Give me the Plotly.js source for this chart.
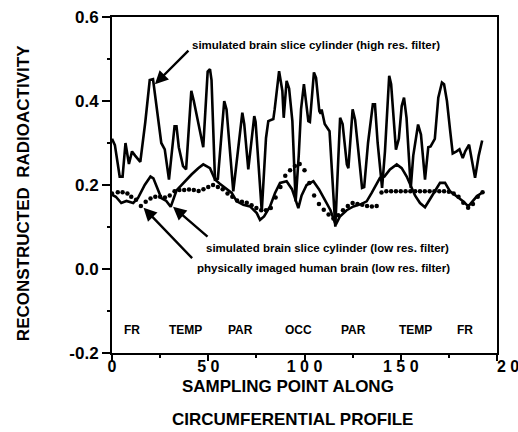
<!DOCTYPE html>
<html>
<head>
<meta charset="utf-8">
<script src="https://cdn.plot.ly/plotly-3.0.1.min.js"></script>
<style>html,body{margin:0;padding:0;background:#fff;}#chart{width:518px;height:432px;}</style>
</head>
<body>
<div id="chart"></div>
<script>
// High resolution filter simulation
const hiX = [0,1.5,3,4,5.5,7,8.8,10.4,12,14.7,17.3,19.6,21.3,22.5,24.2,25.6,27.4,29.6,32.5,33.5,34.7,36.9,38.5,41.2,42.5,44,46.6,47.4,49.7,50.9,51.7,53.5,55,58.3,59.5,63,67.7,68.7,70.8,73.9,74.6,77.8,80,81.2,83.8,84.5,86.8,88.5,89.2,90.7,92,93.7,95.4,97,98.2,99.7,102,102.8,104.9,106,107.7,108.4,108.9,110.5,113,116,118.5,119.8,122,122.8,125,126.3,128,129.9,131,133,135.5,136.6,138,140.3,141.8,144,145,146,147.5,149,150.5,151.7,153,155.2,156.5,159,160.5,162.6,164.3,165.5,167.7,169.5,171.4,172.5,174,175.6,177,179,180.5,182.2,183.5,185.5,186.5,188.6,190.5,192.3];
const hiY = [0.31,0.295,0.25,0.22,0.22,0.30,0.25,0.28,0.27,0.255,0.35,0.45,0.452,0.41,0.36,0.30,0.285,0.213,0.34,0.34,0.29,0.245,0.237,0.424,0.40,0.364,0.308,0.29,0.47,0.476,0.45,0.213,0.215,0.40,0.38,0.185,0.372,0.345,0.237,0.364,0.35,0.137,0.312,0.352,0.357,0.38,0.471,0.424,0.36,0.448,0.43,0.352,0.161,0.27,0.38,0.44,0.352,0.35,0.468,0.455,0.376,0.37,0.38,0.345,0.328,0.101,0.36,0.345,0.249,0.24,0.38,0.355,0.28,0.193,0.195,0.30,0.392,0.392,0.30,0.193,0.28,0.46,0.44,0.38,0.284,0.31,0.388,0.408,0.36,0.193,0.27,0.344,0.32,0.213,0.29,0.292,0.31,0.408,0.444,0.44,0.40,0.332,0.275,0.28,0.285,0.264,0.28,0.296,0.27,0.217,0.27,0.306];

// Low resolution filter simulation
const loX = [0,2,4.8,7.5,11,13.5,17,20,21.5,23.9,25.6,28.2,30.5,33.5,37,41.3,44.8,47.4,50.9,53.5,56,58.7,62.2,64.8,68.2,71.7,75.2,76.9,79,82.1,84.7,87.3,90.7,93.5,95.9,96.8,98.5,101.1,104.6,107.5,110.5,113.5,116.2,118.4,121.9,125.4,129.7,132.3,134.9,136.6,139.2,141.5,144.4,147.9,150.5,153.1,155.7,157.4,160,162.6,165,167.8,170.4,173,175.6,179,182.5,185.1,187.8,189.5,192];
const loY = [0.177,0.172,0.157,0.162,0.157,0.169,0.20,0.22,0.216,0.189,0.169,0.162,0.148,0.187,0.205,0.225,0.24,0.249,0.24,0.213,0.203,0.193,0.181,0.161,0.153,0.149,0.133,0.117,0.125,0.149,0.181,0.205,0.209,0.19,0.157,0.145,0.175,0.20,0.209,0.19,0.165,0.14,0.105,0.125,0.14,0.149,0.155,0.161,0.181,0.195,0.217,0.22,0.237,0.249,0.24,0.22,0.193,0.175,0.157,0.147,0.165,0.185,0.205,0.205,0.185,0.173,0.161,0.149,0.163,0.173,0.181];

// Physically imaged human brain (dots)
const phX = [0,3,5.5,8,10,12.5,15,17.5,20,22.5,25,27.5,30,32.5,35,37.5,40,42.5,45,47.5,50,52.5,55,57.5,60,62.5,65,67.5,70,72.5,75,77.5,80,82.5,85,87.5,90,92.5,95,97.5,100,102.5,105,107.5,110,112.5,115,117.5,120,122.5,125,127.5,130,132.5,135,137.5,140,142.5,145,147.5,150,152.5,155,157.5,160,162.5,165,167.5,170,172.5,175,177.5,180,182.5,185,187.5,190,192.5];
const phY = [0.18,0.183,0.183,0.18,0.172,0.165,0.15,0.16,0.168,0.172,0.172,0.17,0.175,0.185,0.188,0.188,0.189,0.188,0.186,0.19,0.195,0.2,0.195,0.19,0.18,0.172,0.163,0.16,0.158,0.152,0.145,0.14,0.14,0.145,0.17,0.195,0.222,0.235,0.245,0.25,0.235,0.205,0.175,0.155,0.141,0.13,0.12,0.128,0.14,0.15,0.157,0.155,0.153,0.15,0.149,0.15,0.182,0.185,0.185,0.185,0.185,0.185,0.185,0.185,0.185,0.185,0.185,0.185,0.185,0.185,0.184,0.18,0.172,0.158,0.146,0.155,0.172,0.183];

// Region labels
const regionNames = ["FR","TEMP","PAR","OCC","PAR","TEMP","FR"];
const regionX = [10.2,38,66.5,96.8,125.4,157.4,183.4];
const regionY = -0.146;

// Tick labels
const xTickVals = [0,50,100,150,200];
const xTickText = ["0","5 0","1 0 0","1 5 0","\u00a0\u00a0\u00a0\u00a0\u00a0\u00a0\u00a0\u00a02 0 0"];
const yTickVals = [-0.2,0,0.2,0.4,0.6];
const yTickText = ["-0.2","0.0","0.2","0.4","0.6"];

const FONT = "Liberation Sans, Arial, Helvetica, sans-serif";

const traces = [
  {x: hiX, y: hiY, mode: "lines", line: {color: "#000", width: 2.6}, hoverinfo: "skip"},
  {x: loX, y: loY, mode: "lines", line: {color: "#000", width: 2.6}, hoverinfo: "skip"},
  {x: phX, y: phY, mode: "markers", marker: {color: "#000", size: 4.5}, hoverinfo: "skip"}
];

const annotations = [];
const txt = (x, y, t, size) => ({x, y, xref: "x", yref: "y", text: t, showarrow: false,
  xanchor: "center", yanchor: "middle", font: {family: FONT, size, color: "#000", weight: 700}});
annotations.push(txt(106.2, 0.533, "simulated brain slice cylinder (high res. filter)", 11.5));
annotations.push(txt(112.2, 0.050, "simulated brain slice cylinder (low res. filter)", 11.5));
annotations.push(txt(109.9, 0.0025, "physically imaged human brain (low res. filter)", 11.5));
regionNames.forEach((n, i) => annotations.push(txt(regionX[i], regionY, n, 12)));

const arrow = (x, y, ax, ay) => ({x, y, xref: "x", yref: "y", ax, ay, text: "", showarrow: true,
  arrowhead: 2, arrowsize: 1.1, arrowwidth: 2.4, arrowcolor: "#000", standoff: 0});
annotations.push(arrow(22.3, 0.44, 35, -35));
annotations.push(arrow(31.7, 0.148, 36, 31));
annotations.push(arrow(16.4, 0.146, 50, 52));

// axis titles
annotations.push({x: -0.231, y: 0.476, xref: "paper", yref: "paper", text: "RECONSTRUCTED\u00a0\u00a0RADIOACTIVITY",
  textangle: -90, showarrow: false, xanchor: "center", yanchor: "middle",
  font: {family: FONT, size: 17, color: "#000", weight: 700}});
annotations.push({x: (288-112)/385, y: (353-386)/336, xref: "paper", yref: "paper", text: "SAMPLING POINT ALONG",
  showarrow: false, xanchor: "center", yanchor: "middle", font: {family: FONT, size: 17, color: "#000", weight: 700}});
annotations.push({x: (292.5-112)/385, y: (353-419)/336, xref: "paper", yref: "paper", text: "CIRCUMFERENTIAL PROFILE",
  showarrow: false, xanchor: "center", yanchor: "middle", font: {family: FONT, size: 17, color: "#000", weight: 700}});

const layout = {
  width: 518, height: 432,
  margin: {l: 112, r: 21, t: 17, b: 79, pad: 0},
  paper_bgcolor: "#fff", plot_bgcolor: "#fff",
  showlegend: false,
  xaxis: {range: [0, 200], showgrid: false, zeroline: false, showline: true, linecolor: "#000", linewidth: 2,
    mirror: true, ticks: "outside", ticklen: 6, tickwidth: 2, tickcolor: "#000",
    tickvals: xTickVals, ticktext: xTickText, automargin: false, ticklabeloverflow: "allow",
    ticklabelstandoff: -8,
    tickfont: {family: FONT, size: 16, color: "#000", weight: 700},
    minor: {tickvals: [25, 75, 125, 175], ticks: "outside", ticklen: 3, tickwidth: 2, tickcolor: "#000", showgrid: false}},
  yaxis: {range: [-0.2, 0.6], showgrid: false, zeroline: false, showline: true, linecolor: "#000", linewidth: 2,
    mirror: true, ticks: "outside", ticklen: 8, tickwidth: 2, tickcolor: "#000",
    tickvals: yTickVals, ticktext: yTickText, automargin: false,
    tickfont: {family: FONT, size: 17, color: "#000", weight: 700},
    minor: {tickvals: [-0.1, 0.1, 0.3, 0.5], ticks: "outside", ticklen: 3, tickwidth: 2, tickcolor: "#000", showgrid: false}},
  annotations
};

Plotly.newPlot("chart", traces, layout, {staticPlot: true, displayModeBar: false});
</script>
</body>
</html>
